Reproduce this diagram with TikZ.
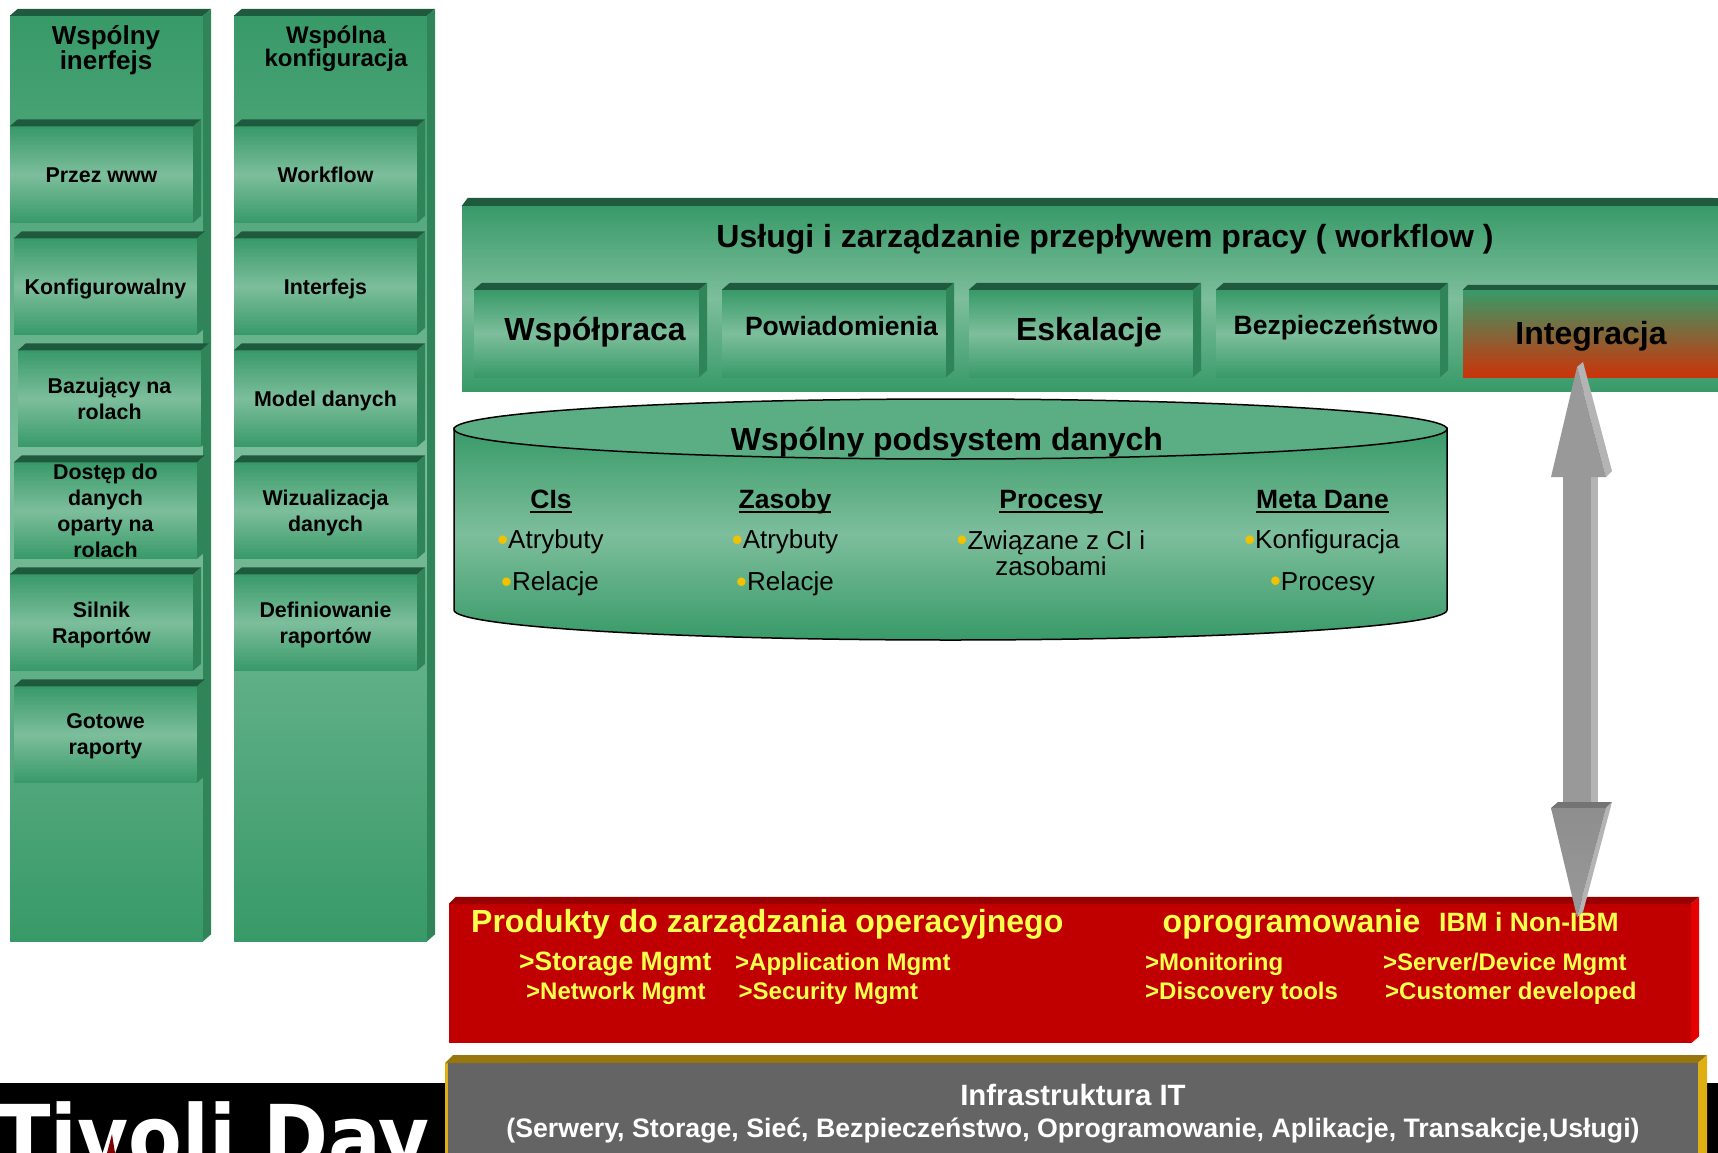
\documentclass[tikz,border=0pt]{standalone}
\usepackage{fontspec}
\setmainfont{Liberation Sans}
\newfontfamily\dayfont[FakeStretch=0.89]{DejaVu Sans}
\usepackage{tikz}
\usetikzlibrary{calc}
\definecolor{gdark}{HTML}{389A68}
\definecolor{glight}{HTML}{7DBE9C}
\definecolor{gtop}{HTML}{1F5A3E}
\definecolor{gside}{HTML}{2F8558}
\definecolor{gellipse}{HTML}{5BAE84}
\definecolor{redface}{HTML}{C00000}
\definecolor{redtop}{HTML}{990000}
\definecolor{redside}{HTML}{E60000}
\definecolor{intred}{HTML}{CC330A}
\definecolor{greyface}{HTML}{646464}
\definecolor{goldtop}{HTML}{98760E}
\definecolor{goldside}{HTML}{DFAE12}
\definecolor{yellowtxt}{HTML}{FFFF4D}
\definecolor{bulletc}{HTML}{F2C200}
\definecolor{arrfront}{HTML}{999999}
\definecolor{arrside}{HTML}{B4B4B4}
\definecolor{arrband}{HTML}{747474}
\newcommand{\fsz}[1]{\fontsize{#1}{#1}\selectfont\bfseries}
\newcommand{\ulhead}[1]{\setbox0\hbox{#1}\rlap{\rule[-4pt]{\wd0}{2pt}}\box0}
\newcommand{\bl}{\raisebox{-1.5pt}{\fontsize{31}{26}\selectfont\textcolor{bulletc}{•}}}
\tikzset{
 facebox/.style={inner sep=0pt,top color=gdark,bottom color=gdark,middle color=glight,align=center},
 lab/.style={font=\fontsize{21.4}{26}\selectfont\bfseries},
 labone/.style={lab,text height=15pt,text depth=0pt},
 item/.style={inner sep=0pt,align=center,font=\fontsize{26}{26}\selectfont},
 head/.style={inner sep=0pt,text height=19pt,text depth=0pt,font=\fontsize{26.5}{26.5}\selectfont\bfseries},
 yel/.style={inner sep=0pt,anchor=west,text=yellowtxt,font=\fontsize{24}{24}\selectfont\bfseries}
}
\begin{document}
\begin{tikzpicture}[x=1pt,y=-1pt]
\useasboundingbox (0,0) rectangle (1718,1153);
% left panels
\node[facebox,minimum width=193pt,minimum height=925pt] (panela) at (106.5,478.5) {};
\node[facebox,minimum width=193pt,minimum height=925pt] (panelb) at (330.5,478.5) {};
% bar
\node[facebox,minimum width=1256pt,minimum height=185pt] (bar) at (1090,298.5) {};
\fill[gtop] (bar.north west) -- ++(6,-8) -- (1718,198) -- (bar.north east) -- cycle;
\foreach \n in {panela,panelb} {
 \fill[gtop] (\n.north west) -- ++(8,-7) -- ($(\n.north east)+(8,-7)$) -- (\n.north east) -- cycle;
 \fill[gside] (\n.north east) -- ++(8,-7) -- ($(\n.south east)+(8,-7)$) -- (\n.south east) -- cycle;
}
% column boxes
\node[facebox,labone,minimum width=183pt,minimum height=96pt] (www) at (101.5,174.5) {Przez www};
\node[facebox,labone,minimum width=183pt,minimum height=96pt] (konf) at (105.5,286.5) {Konfigurowalny};
\node[facebox,lab,minimum width=183pt,minimum height=96pt] (role) at (109.5,398.5) {Bazujący na\\rolach};
\node[facebox,lab,minimum width=183pt,minimum height=96pt] (dost) at (105.5,510.5) {Dostęp do\\danych\\oparty na\\rolach};
\node[facebox,lab,minimum width=183pt,minimum height=96pt] (silnik) at (101.5,622.5) {Silnik\\\smash{Raportów}};
\node[facebox,lab,minimum width=183pt,minimum height=96pt] (gotowe) at (105.5,734.5) {Gotowe\\\smash{raporty}};
\node[facebox,labone,minimum width=183pt,minimum height=96pt] (work) at (325.5,174.5) {Workflow};
\node[facebox,labone,minimum width=183pt,minimum height=96pt] (inter) at (325.5,286.5) {Interfejs};
\node[facebox,labone,minimum width=183pt,minimum height=96pt] (model) at (325.5,398.5) {Model danych};
\node[facebox,lab,minimum width=183pt,minimum height=96pt] (wiz) at (325.5,510.5) {Wizualizacja\\\smash{danych}};
\node[facebox,lab,minimum width=183pt,minimum height=96pt] (defi) at (325.5,622.5) {Definiowanie\\\smash{raportów}};
% service boxes
\node[facebox,minimum width=225pt,minimum height=87pt] (wsp) at (586.5,333.5) {};
\node[facebox,minimum width=224pt,minimum height=87pt] (pow) at (834,333.5) {};
\node[facebox,minimum width=224pt,minimum height=87pt] (esk) at (1081,333.5) {};
\node[facebox,minimum width=224pt,minimum height=87pt] (bez) at (1328,333.5) {};
\foreach \n in {www,konf,role,dost,silnik,gotowe,work,inter,model,wiz,defi,wsp,pow,esk,bez} {
 \fill[gtop] (\n.north west) -- ++(8,-7) -- ($(\n.north east)+(8,-7)$) -- (\n.north east) -- cycle;
 \fill[gside] (\n.north east) -- ++(8,-7) -- ($(\n.south east)+(8,-7)$) -- (\n.south east) -- cycle;
}
\node[inner sep=0pt,top color=gdark,bottom color=intred,minimum width=255pt,minimum height=87pt] (integ) at (1590.5,333.5) {};
\fill[gtop] (integ.north west) -- ++(5,-5) -- (1718,285) -- (integ.north east) -- cycle;
% titles
\node[inner sep=0pt,align=center,font=\fontsize{26}{25}\selectfont\bfseries] (titlea) at (106,50) {Wspólny\\inerfejs};
\node[inner sep=0pt,align=center,font=\fontsize{24}{23}\selectfont\bfseries] (titleb) at (336,49) {Wspólna\\konfiguracja};
\node[inner sep=0pt,font=\fsz{32}] (titlebar) at (1105,239) {Usługi i zarządzanie przepływem pracy ( workflow )};
\node[inner sep=0pt,font=\fsz{32}] (wsplab) at (595,332) {Współpraca};
\node[inner sep=0pt,font=\fsz{26.5}] (powlab) at (841.5,326) {Powiadomienia};
\node[inner sep=0pt,font=\fsz{32}] (esklab) at (1089,332) {Eskalacje};
\node[inner sep=0pt,font=\fsz{26.5}] (bezlab) at (1336,328) {Bezpieczeństwo};
\node[inner sep=0pt,font=\fsz{32}] (intlab) at (1591,336) {Integracja};
% cylinder
\path[draw=black,line width=1.5pt,top color=gdark,bottom color=gdark,middle color=glight]
 (454,428) -- (454,610) arc[start angle=180,end angle=360,x radius=496.5pt,y radius=30pt] -- (1447,428) -- cycle;
\path[draw=black,line width=1.5pt,fill=gellipse] (950.5,429) ellipse [x radius=496.5pt,y radius=30pt];
\node[inner sep=0pt,font=\fsz{32}] (podsys) at (947,442) {Wspólny podsystem danych};
\node[head] (cis) at (551,499) {\ulhead{CIs}};
\node[head] (zas) at (785,499) {\ulhead{Zasoby}};
\node[head] (proc) at (1051,499) {\ulhead{Procesy}};
\node[head] (meta) at (1322.5,499) {\ulhead{Meta Dane}};
\node[item] (a1) at (550.5,542) {\bl Atrybuty};
\node[item] (r1) at (550,584) {\bl Relacje};
\node[item] (a2) at (785,542) {\bl Atrybuty};
\node[item] (r2) at (785,584) {\bl Relacje};
\node[item] (zw) at (1051,553) {\bl Związane z CI i\\zasobami};
\node[item] (kon) at (1322,542) {\bl Konfiguracja};
\node[item] (pr) at (1322.5,584) {\bl Procesy};
% black strip
\fill[black] (0,1083) rectangle (445,1153);
\fill[black] (1707,1083) rectangle (1718,1153);
\begin{scope}
\clip (0,1083) rectangle (445,1153);
\node[inner sep=0pt,anchor=base west,text=white,font=\dayfont\fontsize{88}{88}\selectfont\bfseries] (tivoli) at (-3,1168) {Tivoli Day};
\fill[red!50!black] (107,1153) -- (112,1134) -- (115,1153) -- cycle;
\end{scope}
% red box
\node[inner sep=0pt,fill=redface,minimum width=1242pt,minimum height=139pt] (prod) at (1070,973.5) {};
\fill[redtop] (prod.north west) -- ++(7,-7) -- ($(prod.north east)+(8,-7)$) -- (prod.north east) -- cycle;
\fill[redside] (prod.north east) -- ++(8,-7) -- ($(prod.south east)+(8,-7)$) -- (prod.south east) -- cycle;
\node[yel,font=\fsz{32}] (prodt) at (471,924) {Produkty do zarządzania operacyjnego};
\node[yel,font=\fsz{32}] (oprog) at (1162.5,924) {oprogramowanie};
\node[yel,font=\fsz{26.5}] (ibm) at (1439,922) {IBM i Non-IBM};
\node[yel,font=\fsz{26.5}] (stor) at (519,964) {>Storage Mgmt};
\node[yel] (netw) at (526,993) {>Network Mgmt};
\node[yel] (appl) at (735,964) {>Application Mgmt};
\node[yel] (secu) at (738.5,993) {>Security Mgmt};
\node[yel] (moni) at (1145,964) {>Monitoring};
\node[yel] (disc) at (1145,993) {>Discovery tools};
\node[yel] (serv) at (1383,964) {>Server/Device Mgmt};
\node[yel] (cust) at (1385,993) {>Customer developed};
% grey box
\fill[goldside] (445,1063) rectangle (448,1153);
\node[inner sep=0pt,fill=greyface,minimum width=1250pt,minimum height=90pt] (infrabox) at (1073,1108) {};
\fill[goldtop] (445,1063) -- (453,1055) -- (1707,1055) -- (infrabox.north east) -- cycle;
\fill[goldside] (infrabox.north east) -- ++(9,-8) -- (1707,1153) -- (infrabox.south east) -- cycle;
\node[inner sep=0pt,text=white,font=\fsz{29.4}] (infra) at (1073,1095) {Infrastruktura IT};
\node[inner sep=0pt,text=white,font=\fsz{26.7}] (infrb) at (1073,1131) {(Serwery, Storage, Sieć, Bezpieczeństwo, Oprogramowanie, Aplikacje, Transakcje,Usługi)};
% arrow
\coordinate (tipup) at (1577,367);
\coordinate (tipdown) at (1577,917);
\fill[arrside] (1591,470) rectangle (1598,806);
\fill[arrfront] (1563,470) rectangle (1591,810);
\fill[arrside] (tipup) -- ++(6,-5) -- (1612,471) -- (1606,477) -- cycle;
\fill[arrfront] (tipup) -- (1551,477) -- (1606,477) -- cycle;
\fill[arrband] (1551,808) -- (1558,802) -- (1612,802) -- (1606,808) -- cycle;
\fill[arrside] (1606,808) -- (1612,802) -- (1583,912) -- (tipdown) -- cycle;
\shade[top color=arrband!30!arrfront,bottom color=arrfront] (1551,808) -- (1606,808) -- (tipdown) -- cycle;
\end{tikzpicture}
\end{document}
